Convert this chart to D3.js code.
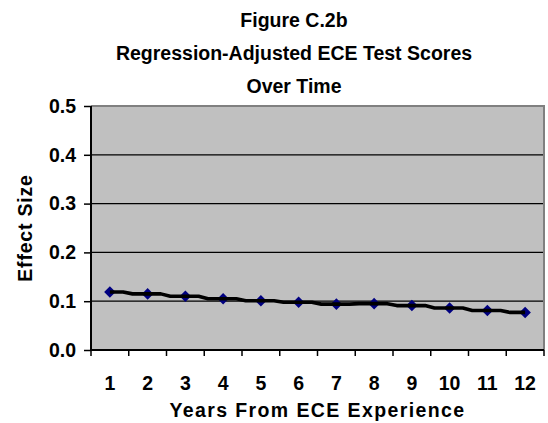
<!DOCTYPE html>
<html>
<head>
<meta charset="utf-8">
<script src="https://cdn.jsdelivr.net/npm/d3@7"></script>
<style>
  body { margin: 0; background: #fff; }
  svg text { font-family: "Liberation Sans", Arial, sans-serif; font-weight: bold; fill: #000; }
</style>
</head>
<body>
<svg id="chart" width="548" height="423"></svg>
<script>
"use strict";

// chart data
const years = ["1", "2", "3", "4", "5", "6", "7", "8", "9", "10", "11", "12"];
const effectSize = [0.119, 0.115, 0.110, 0.105, 0.101, 0.098, 0.094, 0.095, 0.091, 0.086, 0.081, 0.077];
const yTicks = [0, 0.1, 0.2, 0.3, 0.4, 0.5];
const titleLines = ["Figure C.2b", "Regression-Adjusted ECE Test Scores", "Over Time"];

const margin = {top: 106, right: 4, bottom: 73, left: 91};
const width = 548 - margin.left - margin.right;
const height = 423 - margin.top - margin.bottom;
const fs = "19.5px";

const svg = d3.select("#chart");

// title
svg.append("g")
	.selectAll("text")
	.data(titleLines)
	.enter()
	.append("text")
	.attr("x", 294)
	.attr("y", (d, i) => 27 + i * 33)
	.attr("text-anchor", "middle")
	.style("font-size", fs)
	.text(d => d);

const g = svg.append("g")
	.attr("transform", `translate(${margin.left}, ${margin.top})`);

const xscale = d3.scaleBand()
	.domain(years)
	.range([0, width]);
const yscale = d3.scaleLinear()
	.domain([0, 0.5])
	.range([height, 0]);

// plot background
g.append("rect")
	.attr("width", width)
	.attr("height", height)
	.attr("fill", "#c0c0c0");

// gridlines
g.append("g")
	.selectAll("line")
	.data(yTicks.filter(d => d > 0 && d < 0.5))
	.enter()
	.append("line")
	.attr("x1", 0)
	.attr("x2", width)
	.attr("y1", d => yscale(d))
	.attr("y2", d => yscale(d))
	.attr("stroke", "#000")
	.attr("stroke-width", 1.2);

// top/right border
g.append("path")
	.attr("d", `M0,${yscale(0.5)}H${width}V${height}`)
	.attr("fill", "none")
	.attr("stroke", "#808080")
	.attr("stroke-width", 2);

// y axis
const yaxis = g.append("g")
	.call(d3.axisLeft(yscale).tickValues(yTicks).tickFormat(d3.format(".1f")).tickSize(7).tickPadding(8));
yaxis.select(".domain").attr("stroke-width", 2).attr("d", `M0,${yscale(0.5)}V${height}`);
yaxis.selectAll(".tick line").attr("stroke-width", 1.5);
yaxis.selectAll("text").style("font-size", fs).attr("font-family", null);

// x axis: ticks on category boundaries
const xaxis = g.append("g")
	.attr("transform", `translate(0, ${height})`);
xaxis.append("line")
	.attr("x1", 0).attr("x2", width)
	.attr("stroke", "#000").attr("stroke-width", 2);
xaxis.selectAll(".bound")
	.data(d3.range(years.length + 1))
	.enter()
	.append("line")
	.classed("bound", true)
	.attr("x1", i => i * xscale.step())
	.attr("x2", i => i * xscale.step())
	.attr("y1", 0).attr("y2", 6)
	.attr("stroke", "#000").attr("stroke-width", 1.5);
xaxis.selectAll(".lbl")
	.data(years)
	.enter()
	.append("text")
	.classed("lbl", true)
	.attr("x", d => xscale(d) + xscale.bandwidth() / 2)
	.attr("y", 40)
	.attr("text-anchor", "middle")
	.style("font-size", fs)
	.text(d => d);

// axis titles
g.append("text")
	.attr("x", width / 2)
	.attr("y", height + 67)
	.attr("text-anchor", "middle")
	.style("font-size", fs)
	.style("letter-spacing", "1.4px")
	.text("Years From ECE Experience");
svg.append("text")
	.attr("transform", `translate(32, ${margin.top + height / 2}) rotate(-90)`)
	.attr("text-anchor", "middle")
	.style("font-size", fs)
	.style("letter-spacing", "0.8px")
	.text("Effect Size");

// data line: flat around each point, short slope in between
const cx = (d, i) => xscale(years[i]) + xscale.bandwidth() / 2;
let pts = [];
effectSize.forEach((v, i) => {
	pts.push([cx(v, i), yscale(v)]);
	if (i < effectSize.length - 1) {
		const step = xscale.step();
		pts.push([cx(v, i) + step * 0.35, yscale(v)]);
		pts.push([cx(v, i) + step * 0.6, yscale(effectSize[i + 1])]);
	}
});

// markers under the line
g.append("g")
	.selectAll("path")
	.data(effectSize)
	.enter()
	.append("path")
	.attr("d", d3.symbol().type(d3.symbolDiamond2).size(85))
	.attr("transform", (d, i) => `translate(${cx(d, i)}, ${yscale(d)})`)
	.attr("fill", "#000080");

g.append("path")
	.datum(pts)
	.attr("d", d3.line())
	.attr("fill", "none")
	.attr("stroke", "#000")
	.attr("stroke-width", 3.6)
	.attr("stroke-linejoin", "round");
</script>
</body>
</html>
